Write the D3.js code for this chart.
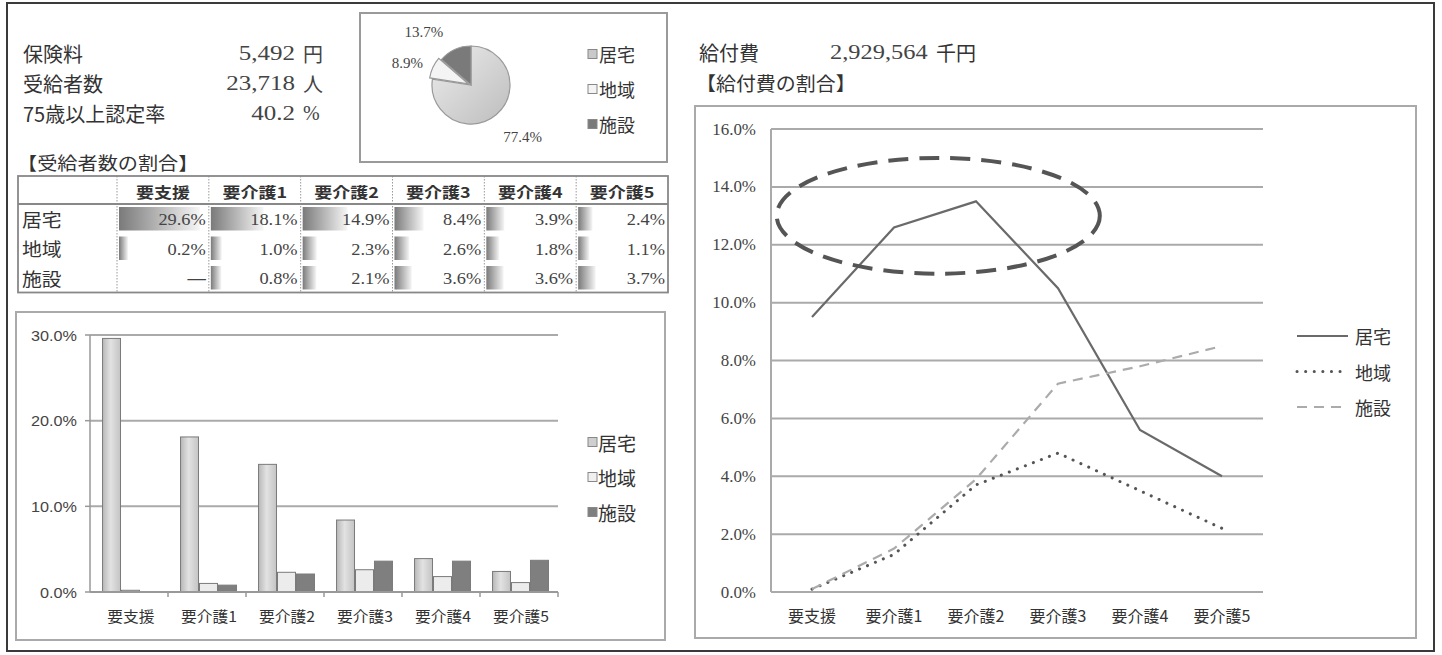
<!DOCTYPE html>
<html><head><meta charset="utf-8">
<script src="https://cdn.jsdelivr.net/npm/d3@7"></script>
<style>
body{margin:0;background:#fff}
svg text{font-family:"Noto Sans CJK JP","Noto Sans",sans-serif;fill:#333}
svg text.num{font-family:"Liberation Serif",serif}
svg text.sans{font-family:"Liberation Sans",sans-serif}
</style></head><body>
<svg id="chart" width="1442" height="655"></svg>
<script>
// ---- data ----
const categories = ["要支援","要介護1","要介護2","要介護3","要介護4","要介護5"];
const seriesNames = ["居宅","地域","施設"];
// 受給者数の割合 (%)
const recipKyotaku = [29.6,18.1,14.9,8.4,3.9,2.4];
const recipChiiki = [0.2,1.0,2.3,2.6,1.8,1.1];
const recipShisetsu = [null,0.8,2.1,3.6,3.6,3.7];
// 給付費の割合 (%)
const costKyotaku = [9.5,12.6,13.5,10.5,5.6,4.0];
const costChiiki = [0.1,1.3,3.7,4.8,3.5,2.2];
const costShisetsu = [0.1,1.5,3.9,7.2,7.8,8.5];
// 給付費の内訳 (%)
const pieShares = [77.4,8.9,13.7];
// summary figures
const statLabels = ["保険料","受給者数","75歳以上認定率"];
const statValues = ["5,492","23,718","40.2"];
const statUnits = ["円","人","%"];
const benefitLabel = "給付費";
const benefitValue = "2,929,564";
const benefitUnit = "千円";
const barTicks = [0,10,20,30];
const lineTicks = [0,2,4,6,8,10,12,14,16];

const recipSeries = [recipKyotaku, recipChiiki, recipShisetsu];
const costSeries = [costKyotaku, costChiiki, costShisetsu];

const svg = d3.select("#chart");
const defs = svg.append("defs");

function label(g, x, y, str, o = {}) {
  const t = g.append("text").attr("x", x).attr("y", y).text(str)
    .attr("font-size", o.size || 16)
    .attr("text-anchor", o.anchor || "start")
    .attr("dominant-baseline", "central");
  if (o.cls) t.attr("class", o.cls);
  if (o.weight) t.attr("font-weight", o.weight);
  if (o.fill) t.style("fill", o.fill);
  if (o.stretch) {
    const w = t.node().getComputedTextLength();
    t.attr("textLength", w * o.stretch).attr("lengthAdjust", "spacingAndGlyphs");
  }
  return t;
}

// gradients
const gBar = defs.append("linearGradient").attr("id", "dataBar");
gBar.append("stop").attr("offset", "0%").attr("stop-color", "#7a7a7a");
gBar.append("stop").attr("offset", "100%").attr("stop-color", "#f6f6f6");
const gCol = defs.append("linearGradient").attr("id", "colKyotaku");
gCol.append("stop").attr("offset", "0%").attr("stop-color", "#b8b8b8");
gCol.append("stop").attr("offset", "45%").attr("stop-color", "#e2e2e2");
gCol.append("stop").attr("offset", "100%").attr("stop-color", "#c4c4c4");
const gPie = defs.append("linearGradient").attr("id", "pieKyotaku")
  .attr("x1", "0").attr("y1", "0").attr("x2", "1").attr("y2", "1");
gPie.append("stop").attr("offset", "0%").attr("stop-color", "#ececec");
gPie.append("stop").attr("offset", "100%").attr("stop-color", "#bdbdbd");

// outer frame
svg.append("rect").attr("x", 7).attr("y", 3).attr("width", 1427).attr("height", 648)
  .attr("fill", "none").attr("stroke", "#3a3a3a").attr("stroke-width", 2);

// ---- summary figures ----
const summary = svg.append("g");
statLabels.forEach((s, i) => {
  const y = 53 + i * 30;
  label(summary, 23, y, s, {size: 20});
  label(summary, 295, y, statValues[i], {size: 20, anchor: "end", cls: "num", stretch: 1.25, fill: "#444"});
  label(summary, 303, y, statUnits[i], {size: 20, cls: statUnits[i] === "%" ? "num" : null, fill: "#444"});
});

// ---- pie ----
const pieG = svg.append("g");
pieG.append("rect").attr("x", 360).attr("y", 13).attr("width", 307).attr("height", 149)
  .attr("fill", "#fff").attr("stroke", "#9a9a9a").attr("stroke-width", 2);
const pcx = 471, pcy = 85, pr = 39;
const pieData = d3.pie().sort(null)(pieShares);
const arc = d3.arc().innerRadius(0).outerRadius(pr);
const labelArc = d3.arc().innerRadius(70).outerRadius(70);
// nudges so the labels sit clear of the slices
const pieLabelNudge = [[6, -1], [0, 7], [-18, 11]];
const pieFills = ["url(#pieKyotaku)", "#f4f4f4", "#7a7a7a"];
pieData.forEach((d, i) => {
  const mid = (d.startAngle + d.endAngle) / 2;
  const off = i === 1 ? 3 : 0;
  pieG.append("path").attr("d", arc(d))
    .attr("transform", `translate(${pcx + off * Math.sin(mid)},${pcy - off * Math.cos(mid)})`)
    .attr("fill", pieFills[i]).attr("stroke", "#999").attr("stroke-width", 1.2);
  const c = labelArc.centroid(d);
  label(pieG, pcx + c[0] + pieLabelNudge[i][0], pcy + c[1] + pieLabelNudge[i][1], d.data.toFixed(1) + "%",
    {size: 15, anchor: "middle", cls: "num", fill: "#444"});
});
const pieSwatch = ["#c9c9c9", "#f4f4f4", "#7a7a7a"];
seriesNames.forEach((s, i) => {
  const y = 54 + i * 35;
  pieG.append("rect").attr("x", 588).attr("y", y - 4.5).attr("width", 9).attr("height", 9)
    .attr("fill", pieSwatch[i]).attr("stroke", "#888");
  label(pieG, 599, y, s, {size: 18});
});

// ---- table ----
const tab = svg.append("g");
label(tab, 17, 162, "【受給者数の割合】", {size: 18, stretch: 1.12});
const tLeft = 18, tRight = 668, tTop = 176, headH = 28, rowH = 29.5;
const colX = d3.scaleBand().domain(categories).range([117, tRight]);
const tBottom = tTop + headH + rowH * 3;
const barW = d3.scaleLinear()
  .domain(d3.extent(recipSeries.flat().filter(v => v != null)))
  .range([0.1 * (colX.bandwidth() - 2), 0.9 * (colX.bandwidth() - 2)]);
recipSeries.forEach((vals, r) => {
  const y0 = tTop + headH + r * rowH;
  label(tab, 22, y0 + rowH / 2, seriesNames[r], {size: 18, stretch: 1.1});
  vals.forEach((v, c) => {
    const x0 = colX(categories[c]);
    if (v != null) {
      tab.append("rect").attr("x", x0 + 2).attr("y", y0 + 3)
        .attr("width", barW(v)).attr("height", rowH - 6).attr("fill", "url(#dataBar)");
    }
    label(tab, x0 + colX.bandwidth() - 3, y0 + rowH / 2 + 1, v == null ? "—" : v.toFixed(1) + "%",
      {size: 17, anchor: "end", cls: "num", fill: "#444", weight: v == null ? "bold" : null, stretch: 1.08});
  });
});
categories.forEach(c => {
  label(tab, colX(c) + colX.bandwidth() / 2, tTop + headH / 2 + 1, c,
    {size: 15, anchor: "middle", weight: "bold", stretch: 1.2});
  tab.append("line").attr("x1", colX(c)).attr("x2", colX(c)).attr("y1", tTop).attr("y2", tBottom)
    .attr("stroke", "#999").attr("stroke-dasharray", "1.5 1.5");
});
tab.append("line").attr("x1", tLeft).attr("x2", tRight).attr("y1", tTop + headH).attr("y2", tTop + headH)
  .attr("stroke", "#888").attr("stroke-width", 2);
tab.append("rect").attr("x", tLeft).attr("y", tTop).attr("width", tRight - tLeft).attr("height", tBottom - tTop)
  .attr("fill", "none").attr("stroke", "#888").attr("stroke-width", 1.8);

// ---- bar chart ----
const bc = svg.append("g");
bc.append("rect").attr("x", 16).attr("y", 312).attr("width", 649).attr("height", 328)
  .attr("fill", "#fff").attr("stroke", "#aaa").attr("stroke-width", 2);
const bx = d3.scaleBand().domain(categories).range([90, 558]);
const bx0 = d3.scaleBand().domain(categories).range([90, 558]).paddingInner(0.27).paddingOuter(0.135);
const bx1 = d3.scaleBand().domain(seriesNames).range([0, bx0.bandwidth()]);
const by = d3.scaleLinear().domain([0, 30]).range([592, 335]);
barTicks.forEach(t => {
  if (t > 0) bc.append("line").attr("x1", 90).attr("x2", 558).attr("y1", by(t)).attr("y2", by(t))
    .attr("stroke", "#aaa").attr("stroke-width", 2);
  bc.append("line").attr("x1", 85).attr("x2", 90).attr("y1", by(t)).attr("y2", by(t)).attr("stroke", "#999").attr("stroke-width", 1.5);
  label(bc, 77, by(t), t.toFixed(1) + "%", {size: 15, anchor: "end", cls: "sans", fill: "#444", stretch: 1.08});
});
bc.append("line").attr("x1", 90).attr("x2", 90).attr("y1", by(30)).attr("y2", by(0)).attr("stroke", "#999").attr("stroke-width", 1.5);
const barFills = ["url(#colKyotaku)", "#ececec", "#7f7f7f"];
recipSeries.forEach((vals, s) => {
  vals.forEach((v, c) => {
    const val = v == null ? 0 : v;
    if (val <= 0) return;
    bc.append("rect").attr("x", bx0(categories[c]) + bx1(seriesNames[s]) + 2)
      .attr("y", by(val)).attr("width", bx1.bandwidth() - 1).attr("height", by(0) - by(val))
      .attr("fill", barFills[s]).attr("stroke", "#7a7a7a").attr("stroke-width", 1);
  });
});
bc.append("line").attr("x1", 90).attr("x2", 558).attr("y1", by(0)).attr("y2", by(0)).attr("stroke", "#999").attr("stroke-width", 2);
categories.forEach((c, i) => {
  bc.append("line").attr("x1", bx(c) + bx.bandwidth()).attr("x2", bx(c) + bx.bandwidth())
    .attr("y1", by(0)).attr("y2", by(0) + 5).attr("stroke", "#999").attr("stroke-width", 1.5);
  label(bc, bx(c) + bx.bandwidth() / 2 + 2, 615, c, {size: 15, anchor: "middle", stretch: 1.05});
});
const barSwatch = ["#cfcfcf", "#f0f0f0", "#7f7f7f"];
seriesNames.forEach((s, i) => {
  const y = 442 + i * 35;
  bc.append("rect").attr("x", 588).attr("y", y - 4.5).attr("width", 9).attr("height", 9)
    .attr("fill", barSwatch[i]).attr("stroke", "#888");
  label(bc, 598, y, s, {size: 19});
});

// ---- line chart ----
const lc = svg.append("g");
label(lc, 699, 52, benefitLabel, {size: 20});
label(lc, 830, 52, benefitValue, {size: 20, cls: "num", stretch: 1.22, fill: "#444"});
label(lc, 936, 52, benefitUnit, {size: 20});
label(lc, 696, 82, "【給付費の割合】", {size: 19, stretch: 1.05});
lc.append("rect").attr("x", 695).attr("y", 106).attr("width", 721).attr("height", 532)
  .attr("fill", "#fff").attr("stroke", "#aaa").attr("stroke-width", 2);
const lx = d3.scalePoint().domain(categories).range([771, 1263]).padding(0.5);
const ly = d3.scaleLinear().domain([0, 16]).range([592, 129]);
lineTicks.forEach(t => {
  lc.append("line").attr("x1", 771).attr("x2", 1263).attr("y1", ly(t)).attr("y2", ly(t))
    .attr("stroke", "#aaa").attr("stroke-width", 2);
  label(lc, 756, ly(t), t.toFixed(1) + "%", {size: 16, anchor: "end", cls: "num", fill: "#444", stretch: 1.06});
});
lc.append("line").attr("x1", 771).attr("x2", 771).attr("y1", ly(16)).attr("y2", ly(0)).attr("stroke", "#aaa").attr("stroke-width", 2);
categories.forEach(c => label(lc, lx(c), 615, c, {size: 16, anchor: "middle"}));

const lineStyles = [
  {stroke: "#6a6a6a", width: 2.2, dash: null, cap: "butt"},
  {stroke: "#555", width: 3, dash: "0.1 8.5", cap: "round"},
  {stroke: "#ababab", width: 2.2, dash: "10 7", cap: "butt"}
];
const line = d3.line().x((d, i) => lx(categories[i])).y(d => ly(d));
costSeries.forEach((vals, s) => {
  const st = lineStyles[s];
  lc.append("path").attr("d", line(vals)).attr("fill", "none")
    .attr("stroke", st.stroke).attr("stroke-width", st.width)
    .attr("stroke-dasharray", st.dash).attr("stroke-linecap", st.cap);
});
// highlight around the peak of 居宅
const idx = d3.scaleLinear().domain([0, categories.length - 1]).range([lx(categories[0]), lx(categories[categories.length - 1])]);
const hlFrom = -0.43, hlTo = 3.51, hlLow = 11.0, hlHigh = 15.0;
lc.append("ellipse")
  .attr("cx", (idx(hlFrom) + idx(hlTo)) / 2).attr("cy", (ly(hlLow) + ly(hlHigh)) / 2)
  .attr("rx", (idx(hlTo) - idx(hlFrom)) / 2).attr("ry", (ly(hlLow) - ly(hlHigh)) / 2)
  .attr("fill", "none").attr("stroke", "#555").attr("stroke-width", 4).attr("stroke-dasharray", "20 11");
seriesNames.forEach((s, i) => {
  const y = 336 + i * 35.5;
  const st = lineStyles[i];
  lc.append("line").attr("x1", 1297).attr("x2", 1348).attr("y1", y).attr("y2", y)
    .attr("stroke", st.stroke).attr("stroke-width", st.width)
    .attr("stroke-dasharray", st.dash).attr("stroke-linecap", st.cap);
  label(lc, 1355, y, s, {size: 18});
});
</script>
</body></html>
